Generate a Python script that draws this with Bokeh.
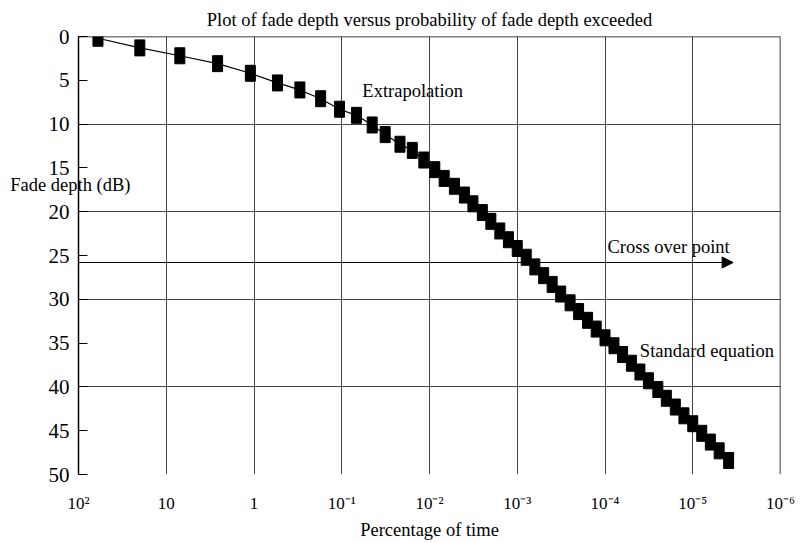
from bokeh.plotting import figure
from bokeh.models import (Range1d, FixedTicker, Label, Arrow, NormalHead, Span,
                          ColumnDataSource, CustomJSTickFormatter, LinearAxis)
from bokeh.embed import file_html
from bokeh.resources import INLINE

# Percentage of time (fade depth exceeded) and fade depth (dB)
pct = [60, 20, 7.0, 2.6, 1.1, 0.54, 0.30, 0.174, 0.106, 0.068, 0.045, 0.032,
       0.0217, 0.0157, 0.0116, 0.0087, 0.0068, 0.0052, 0.0040, 0.0032, 0.0025,
       0.0020, 0.00158, 0.00126, 0.00100, 0.00079, 0.00063, 0.00050, 0.00040,
       0.00032, 0.00025, 0.00020, 0.000158, 0.000126, 0.000100, 7.9e-5, 6.3e-5,
       5.0e-5, 4.0e-5, 3.2e-5, 2.5e-5, 2.0e-5, 1.58e-5, 1.26e-5, 1.0e-5, 7.9e-6,
       6.3e-6, 5.0e-6, 3.9e-6]
fade_db = [0.2, 1.3, 2.2, 3.1, 4.2, 5.3, 6.1, 7.1, 8.3, 9.0, 10.1, 11.2, 12.3,
           13.0, 14.1, 15.2, 16.2, 17.1, 18.1, 19.1, 20.1, 21.1, 22.2, 23.2, 24.2,
           25.2, 26.3, 27.3, 28.3, 29.4, 30.4, 31.4, 32.4, 33.4, 34.4, 35.3, 36.3,
           37.3, 38.3, 39.3, 40.3, 41.3, 42.3, 43.3, 44.2, 45.3, 46.3, 47.3, 48.4]

x_tick_exps = [2, 1, 0, -1, -2, -3, -4, -5, -6]
x_tick_labels = ["10\u00b2", "10", "1", "10\u207b\u00b9", "10\u207b\u00b2",
                 "10\u207b\u00b3", "10\u207b\u2074", "10\u207b\u2075", "10\u207b\u2076"]
y_ticks = [0, 5, 10, 15, 20, 25, 30, 35, 40, 45, 50]
y_grid = [10, 20, 30, 40]
y_title = "Fade depth (dB)"
y_title_at = 16.9

crossover_db = 25.8
crossover_end_pct = 10 ** -5.46

FONT = "Liberation Serif"
TXT = "18.5px"

p = figure(width=803, height=542, x_axis_type="log",
           x_range=Range1d(1e2, 1e-6), y_range=Range1d(50, 0),
           output_backend="svg", toolbar_location=None,
           min_border_left=78, min_border_right=23, min_border_top=35,
           min_border_bottom=67)
p.outline_line_color = None
p.background_fill_color = "white"

p.title.text = "Plot of fade depth versus probability of fade depth exceeded"
p.title.align = "center"
p.title.text_font = FONT
p.title.text_font_size = TXT
p.title.text_font_style = "normal"
p.title.text_color = "black"
p.title.standoff = 14

# x axis
xt = [10.0 ** e for e in x_tick_exps]
p.xaxis.ticker = FixedTicker(ticks=xt, minor_ticks=[])
p.xaxis.formatter = CustomJSTickFormatter(
    args=dict(exps=x_tick_exps, labs=x_tick_labels),
    code="const e = Math.round(Math.log10(tick)); const i = exps.indexOf(e); return i >= 0 ? labs[i] : '';")
p.xaxis.axis_line_color = None
p.xaxis.major_tick_line_color = None
p.xaxis.minor_tick_line_color = None
p.xaxis.major_label_standoff = 13
p.xaxis.major_label_text_font = FONT
p.xaxis.major_label_text_font_size = "17px"
p.xaxis.major_label_text_color = "black"
p.xaxis.axis_label = "Percentage of time"
p.xaxis.axis_label_text_font = FONT
p.xaxis.axis_label_text_font_size = TXT
p.xaxis.axis_label_text_font_style = "normal"
p.xaxis.axis_label_text_color = "black"
p.xaxis.axis_label_standoff = 4

# y axis
p.yaxis.ticker = FixedTicker(ticks=y_ticks, minor_ticks=[])
p.yaxis.axis_line_color = "black"
p.yaxis.axis_line_width = 1.5
p.yaxis.major_tick_in = 9
p.yaxis.major_tick_out = 0
p.yaxis.major_tick_line_color = "black"
p.yaxis.minor_tick_line_color = None
p.yaxis.major_label_standoff = 9
p.yaxis.major_label_text_font = FONT
p.yaxis.major_label_text_font_size = "21px"
p.yaxis.major_label_text_color = "black"

# y title as a horizontal label overlapping the axis (second, label-only axis)
ytitle_axis = LinearAxis(ticker=FixedTicker(ticks=[y_title_at], minor_ticks=[]),
                         formatter=CustomJSTickFormatter(args=dict(t=y_title), code="return t;"),
                         axis_line_color=None, major_tick_line_color=None,
                         minor_tick_line_color=None, major_tick_in=0, major_tick_out=0,
                         major_label_standoff=-85, major_label_text_font=FONT,
                         major_label_text_font_size=TXT, major_label_text_color="black")
p.add_layout(ytitle_axis, "left")

# grids
p.xgrid.ticker = FixedTicker(ticks=xt[1:-1])
p.ygrid.ticker = FixedTicker(ticks=y_grid)
p.xgrid.grid_line_color = "#444444"
p.ygrid.grid_line_color = "#444444"
p.xgrid.grid_line_width = 1
p.ygrid.grid_line_width = 1

# frame top and right edges
p.add_layout(Span(location=0, dimension="width", line_color="black", line_width=1.5))
p.add_layout(Span(location=1e-6, dimension="height", line_color="black", line_width=1.5))

src = ColumnDataSource(data=dict(x=pct, y=fade_db))
p.line("x", "y", source=src, line_color="black", line_width=1.2)
p.rect("x", "y", source=src, width=10, height=16, width_units="screen",
       height_units="screen", fill_color="black", line_color="black")

# cross over arrow
p.add_layout(Arrow(end=NormalHead(size=11, fill_color="black", line_color="black"),
                   x_start=1e2, y_start=crossover_db, x_end=crossover_end_pct,
                   y_end=crossover_db, line_color="black", line_width=1.2))

def lab(x, y, text):
    p.add_layout(Label(x=x, y=y, text=text, text_font=FONT, text_font_size=TXT,
                       text_align="left", text_baseline="middle", text_color="black"))

lab(10 ** -1.235, 6.26, "Extrapolation")
lab(10 ** -4.028, 24.0, "Cross over point")
lab(10 ** -4.397, 35.9, "Standard equation")

open("out.html", "w").write(file_html(p, INLINE))
